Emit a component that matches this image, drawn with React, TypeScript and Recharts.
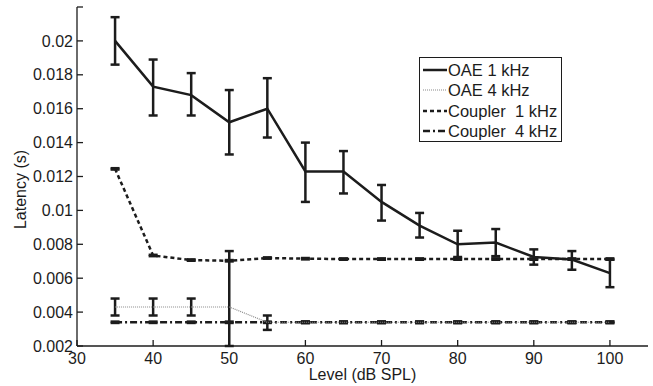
import { LineChart, Line, XAxis, YAxis, ErrorBar, Legend } from 'recharts'

const levels = [35, 40, 45, 50, 55, 60, 65, 70, 75, 80, 85, 90, 95, 100]

const oae1k = [0.02, 0.0173, 0.0168, 0.0152, 0.016, 0.0123, 0.0123, 0.0105, 0.0091, 0.0080, 0.0081, 0.00725, 0.0071, 0.0063]
const oae1kHigh = [0.0214, 0.0189, 0.0181, 0.0171, 0.0178, 0.014, 0.0135, 0.0115, 0.00985, 0.0088, 0.0089, 0.0077, 0.0076, 0.0071]
const oae1kLow = [0.0186, 0.0156, 0.0156, 0.0133, 0.0143, 0.0105, 0.011, 0.0094, 0.0084, 0.00725, 0.0073, 0.0068, 0.0065, 0.00547]

const oae4k = [0.0043, 0.0043, 0.0043, 0.0043, 0.0034, 0.0034, 0.0034, 0.0034, 0.0034, 0.0034, 0.0034, 0.0034, 0.0034, 0.0034]
const oae4kHigh = [0.0048, 0.0048, 0.0048, 0.0076, 0.0038, 0.00345, 0.00345, 0.00345, 0.00345, 0.00345, 0.00345, 0.00345, 0.00345, 0.00345]
// the 50 dB bar runs off the bottom of the axes
const oae4kLow = [0.0038, 0.0038, 0.0038, 0.002, 0.00295, 0.00335, 0.00335, 0.00335, 0.00335, 0.00335, 0.00335, 0.00335, 0.00335, 0.00335]

const coupler1k = [0.01245, 0.00734, 0.00707, 0.00703, 0.00719, 0.00715, 0.00713, 0.00713, 0.00713, 0.00713, 0.00713, 0.00713, 0.00713, 0.00713]
const coupler4k = [0.0034, 0.0034, 0.0034, 0.0034, 0.0034, 0.0034, 0.0034, 0.0034, 0.0034, 0.0034, 0.0034, 0.0034, 0.0034, 0.0034]
// coupler std is tiny, only the caps show
const couplerSpread = [0.00004, 0.00004, 0.00004, 0.00004, 0.00004, 0.00004, 0.00004, 0.00004, 0.00004, 0.00004, 0.00004, 0.00004, 0.00004, 0.00004]

const xTicks = [30, 40, 50, 60, 70, 80, 90, 100]
const yTicks = [0.002, 0.004, 0.006, 0.008, 0.01, 0.012, 0.014, 0.016, 0.018, 0.02, 0.022]

const data = levels.map((lvl, i) => ({
  level: lvl,
  oae1k: oae1k[i],
  oae1kErr: [oae1k[i] - oae1kLow[i], oae1kHigh[i] - oae1k[i]],
  oae4k: oae4k[i],
  oae4kErr: [oae4k[i] - oae4kLow[i], oae4kHigh[i] - oae4k[i]],
  coupler1k: coupler1k[i],
  coupler4k: coupler4k[i],
  couplerErr: couplerSpread[i],
}))

const INK = '#1c1c1c'
const FONT = '"Liberation Sans", Arial, sans-serif'

const series = [
  { name: 'OAE 1 kHz', stroke: INK, width: 2.5, dash: undefined as string | undefined },
  { name: 'OAE 4 kHz', stroke: '#8a8a8a', width: 1.2, dash: '1 1' },
  { name: 'Coupler  1 kHz', stroke: INK, width: 2.5, dash: '4 3' },
  { name: 'Coupler  4 kHz', stroke: INK, width: 2.5, dash: '7 3 2 3' },
]

const fmtY = (v: number) => (v > 0.021 ? '' : String(Number(v.toFixed(3))))

function LegendBox() {
  return (
    <div
      style={{
        border: `1px solid ${INK}`,
        background: '#fff',
        padding: '2px 0 0 3px',
        width: 138,
        height: 81,
        fontFamily: FONT,
        fontSize: 16.5,
        color: INK,
        lineHeight: '20.3px',
      }}
    >
      {series.map(s => (
        <div key={s.name} style={{ display: 'flex', alignItems: 'center', whiteSpace: 'pre' }}>
          <svg width={24} height={10} style={{ marginRight: 1 }}>
            <line x1={0} y1={5} x2={24} y2={5} stroke={s.stroke} strokeWidth={s.width} strokeDasharray={s.dash} />
          </svg>
          {s.name}
        </div>
      ))}
    </div>
  )
}

export default function App() {
  const tickStyle = { fontSize: 16, fontFamily: FONT, fill: INK }
  return (
    <div style={{ position: 'absolute', left: 0, top: 0, background: '#fff' }}>
      <LineChart width={653} height={386} data={data} margin={{ top: 7, right: 5, bottom: 0, left: 0 }}>
        <XAxis
          xAxisId="b"
          dataKey="level"
          type="number"
          domain={[30, 105]}
          ticks={xTicks}
          height={40}
          tickSize={-6}
          tickMargin={13}
          stroke={INK}
          strokeWidth={1.3}
          tick={tickStyle}
          allowDataOverflow
          label={{ value: 'Level (dB SPL)', position: 'insideBottom', offset: 6, style: { fontSize: 16, fontFamily: FONT, fill: INK } }}
        />
        <XAxis
          xAxisId="t"
          orientation="top"
          dataKey="level"
          type="number"
          domain={[30, 105]}
          ticks={xTicks}
          height={0}
          tickSize={-6}
          stroke={INK}
          strokeWidth={1.3}
          tickFormatter={() => ''}
        />
        <YAxis
          yAxisId="l"
          type="number"
          domain={[0.002, 0.022]}
          ticks={yTicks}
          width={77}
          tickSize={-6}
          tickMargin={10}
          stroke={INK}
          strokeWidth={1.3}
          tick={tickStyle}
          tickFormatter={fmtY}
          allowDataOverflow
          label={{ value: 'Latency (s)', angle: -90, position: 'center', dx: -18, dy: 13, style: { fontSize: 16, fontFamily: FONT, fill: INK } }}
        />
        <YAxis
          yAxisId="r"
          orientation="right"
          type="number"
          domain={[0.002, 0.022]}
          ticks={yTicks}
          width={0}
          tickSize={-6}
          stroke={INK}
          strokeWidth={1.3}
          tickFormatter={() => ''}
        />
        <Line xAxisId="b" yAxisId="l" dataKey="coupler4k" name={series[3].name} stroke={INK} strokeWidth={2.5} strokeDasharray="7 3 2 3" dot={false} isAnimationActive={false}>
          <ErrorBar dataKey="couplerErr" width={4.5} stroke={INK} strokeWidth={2.5} />
        </Line>
        <Line xAxisId="b" yAxisId="l" dataKey="coupler1k" name={series[2].name} stroke={INK} strokeWidth={2.5} strokeDasharray="4 3" dot={false} isAnimationActive={false}>
          <ErrorBar dataKey="couplerErr" width={4.5} stroke={INK} strokeWidth={2.5} />
        </Line>
        <Line xAxisId="b" yAxisId="l" dataKey="oae4k" name={series[1].name} stroke="#8a8a8a" strokeWidth={1.2} strokeDasharray="1 1" dot={false} isAnimationActive={false}>
          <ErrorBar dataKey="oae4kErr" width={4.5} stroke={INK} strokeWidth={2.5} />
        </Line>
        <Line xAxisId="b" yAxisId="l" dataKey="oae1k" name={series[0].name} stroke={INK} strokeWidth={2.5} dot={false} isAnimationActive={false}>
          <ErrorBar dataKey="oae1kErr" width={4.5} stroke={INK} strokeWidth={2.5} />
        </Line>
        <Legend
          layout="horizontal"
          verticalAlign="middle"
          content={() => <LegendBox />}
          wrapperStyle={{ left: 419, top: 57, width: 'auto' }}
        />
      </LineChart>
    </div>
  )
}
